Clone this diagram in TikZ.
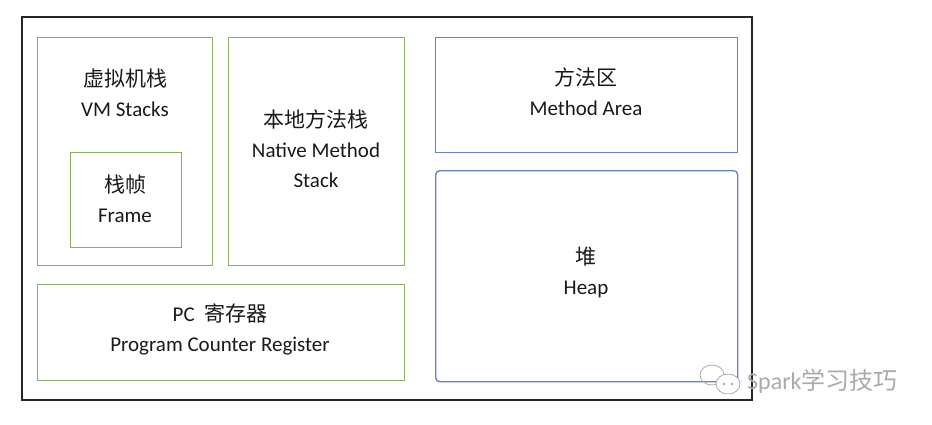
\documentclass[tikz,border=0pt]{standalone}
\usepackage{fontspec}
\setmainfont{Carlito}
\newfontfamily\cjk{Noto Sans CJK SC}
\definecolor{boxgreen}{RGB}{136,176,96}
\definecolor{boxblue}{RGB}{104,132,192}
\definecolor{wmgray}{RGB}{170,170,170}

\tikzset{
  greenbox/.style={draw=boxgreen,line width=1.4pt,anchor=north west,inner sep=0pt},
  bluebox/.style={draw=boxblue,line width=1.4pt,anchor=north west,inner sep=0pt},
  lbl/.style={align=center,inner sep=0pt,text=black!90,font=\fontsize{21}{30}\selectfont}
}

\begin{document}
\begin{tikzpicture}[x=1pt,y=-1pt]
  \useasboundingbox (0,0) rectangle (932,424);
  % outer frame
  \draw[line width=1.5pt,black!85] (22,17) rectangle (752,400);
  % thread-private areas
  \node[greenbox,minimum width=175pt,minimum height=228pt] (vm) at (37,37) {};
  \node[greenbox,minimum width=111pt,minimum height=95pt] (frame) at (70,152) {};
  \node[greenbox,minimum width=176pt,minimum height=228pt] (native) at (228,37) {};
  \node[greenbox,minimum width=367pt,minimum height=96pt] (pc) at (37,284) {};
  % shared areas
  \node[bluebox,minimum width=302pt,minimum height=115pt] (method) at (435,37) {};
  \node[bluebox,rounded corners=4pt,minimum width=302pt,minimum height=211pt] (heap) at (435,170) {};
  % labels
  \node[lbl] (vmtext) at (125,93) {{\cjk 虚拟机栈}\\VM Stacks};
  \node[lbl] (frametext) at (125,199) {{\cjk 栈帧}\\Frame};
  \node[lbl] (nativetext) at (316,149) {{\cjk 本地方法栈}\\Native Method\\Stack};
  \node[lbl] (pctext) at (220,329) {PC\ \ {\cjk 寄存器}\\Program Counter Register};
  \node[lbl] (methodtext) at (586,92) {{\cjk 方法区}\\Method Area};
  \node[lbl] (heaptext) at (586,272) {{\cjk 堆}\\Heap};
  % watermark
  \draw[wmgray,line width=0.8pt] (712,375) ellipse (12pt and 10pt);
  \draw[wmgray,line width=0.8pt,fill=white] (728,384) ellipse (12pt and 10pt);
  \fill[wmgray] (724,384) circle (1.3pt) (732,384) circle (1.3pt);
  \node[anchor=west,inner sep=0pt,text=wmgray,font=\fontsize{24}{24}\selectfont] (mark) at (747,381) {Spark{\cjk 学习技巧}};
\end{tikzpicture}
\end{document}
